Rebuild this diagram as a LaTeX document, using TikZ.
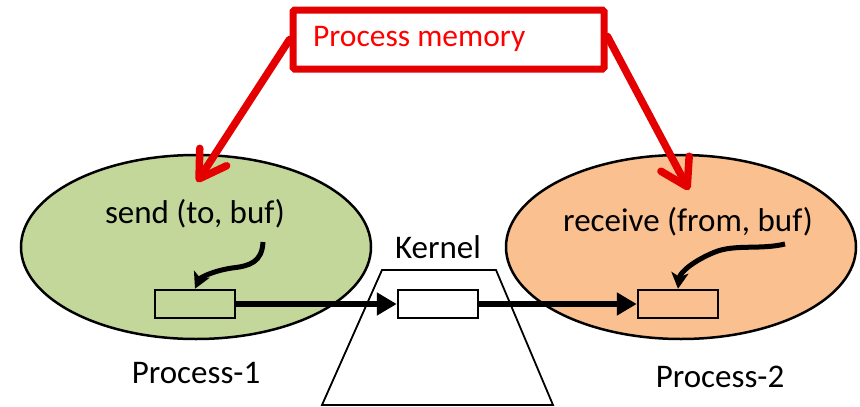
\documentclass[tikz,border=0pt]{standalone}
\usepackage{fontspec}
\setmainfont{Carlito}
\usetikzlibrary{arrows.meta,shapes.geometric}
\definecolor{pgreen}{RGB}{196,215,155}
\definecolor{porange}{RGB}{250,192,144}
\definecolor{pred}{RGB}{228,0,0}
\begin{document}
\begin{tikzpicture}[x=1pt,y=-1pt,
  proc/.style={ellipse,draw=black,line width=2.5pt,minimum width=350pt,minimum height=184pt,inner sep=0pt},
  buf/.style={draw=black,line width=2.5pt,minimum width=80pt,minimum height=28pt,inner sep=0pt},
  lbl/.style={font=\fontsize{33}{36}\selectfont,inner sep=0pt},
  redarrow/.style={draw=pred,line width=7.5pt,line cap=round,-{Straight Barb[length=26pt,width=32pt,round]}},
  flow/.style={draw=black,line width=6pt,-{Triangle[length=20pt,width=22pt]}},
  curvy/.style={draw=black,line width=5pt,-{Stealth[length=16pt,width=17pt,inset=4pt]}}]
\useasboundingbox (0,0) rectangle (860,407);
% process ellipses
\node[proc,fill=pgreen] (p1) at (196,247) {};
\node[proc,fill=porange] (p2) at (681,247) {};
% kernel trapezoid
\coordinate (k1) at (382,270);
\coordinate (k2) at (496,270);
\coordinate (k3) at (553,405);
\coordinate (k4) at (322,405);
\draw[line width=1.8pt] (k1) -- (k2) -- (k3) -- (k4) -- cycle;
% buffers
\node[buf,fill=pgreen] (b1) at (195,304) {};
\node[buf,fill=white] (bk) at (438,304) {};
\node[buf,fill=porange] (b2) at (678,304) {};
% labels
\node[lbl] (t1) at (195,214) {send (to, buf)};
\node[lbl] (t2) at (688,222) {receive (from, buf)};
\node[lbl] (tk) at (438,247) {Kernel};
\node[lbl] (l1) at (196,373) {Process-1};
\node[lbl] (l2) at (720,377) {Process-2};
% process memory box
\node[draw=pred,line width=7pt,minimum width=311pt,minimum height=59pt,rounded corners=1.5pt,inner sep=0pt,fill=white] (pm) at (448.5,39.5) {};
\node[anchor=west,text=red,font=\fontsize{31.5}{34}\selectfont,inner sep=0pt] (pmt) at (313,39) {Process memory};
% red arrows
\coordinate (r1) at (197,182);
\coordinate (r2) at (689,190);
\draw[redarrow] (pm.west) -- (r1);
\draw[redarrow] ([yshift=3pt]pm.east) -- (r2);
% flow arrows
\draw[flow] (b1.east) -- (bk.west);
\draw[flow] (bk.east) -- (b2.west);
% curved arrows
\coordinate (c1) at (263,242);
\coordinate (c2) at (785,244);
\draw[curvy] (c1) .. controls (262,262) and (250,266) .. (232,268) .. controls (212,271) and (200,278) .. (b1.north);
\draw[curvy] (c2) .. controls (760,250) and (735,244) .. (715,252) .. controls (695,260) and (680,272) .. (b2.north);
\end{tikzpicture}
\end{document}
